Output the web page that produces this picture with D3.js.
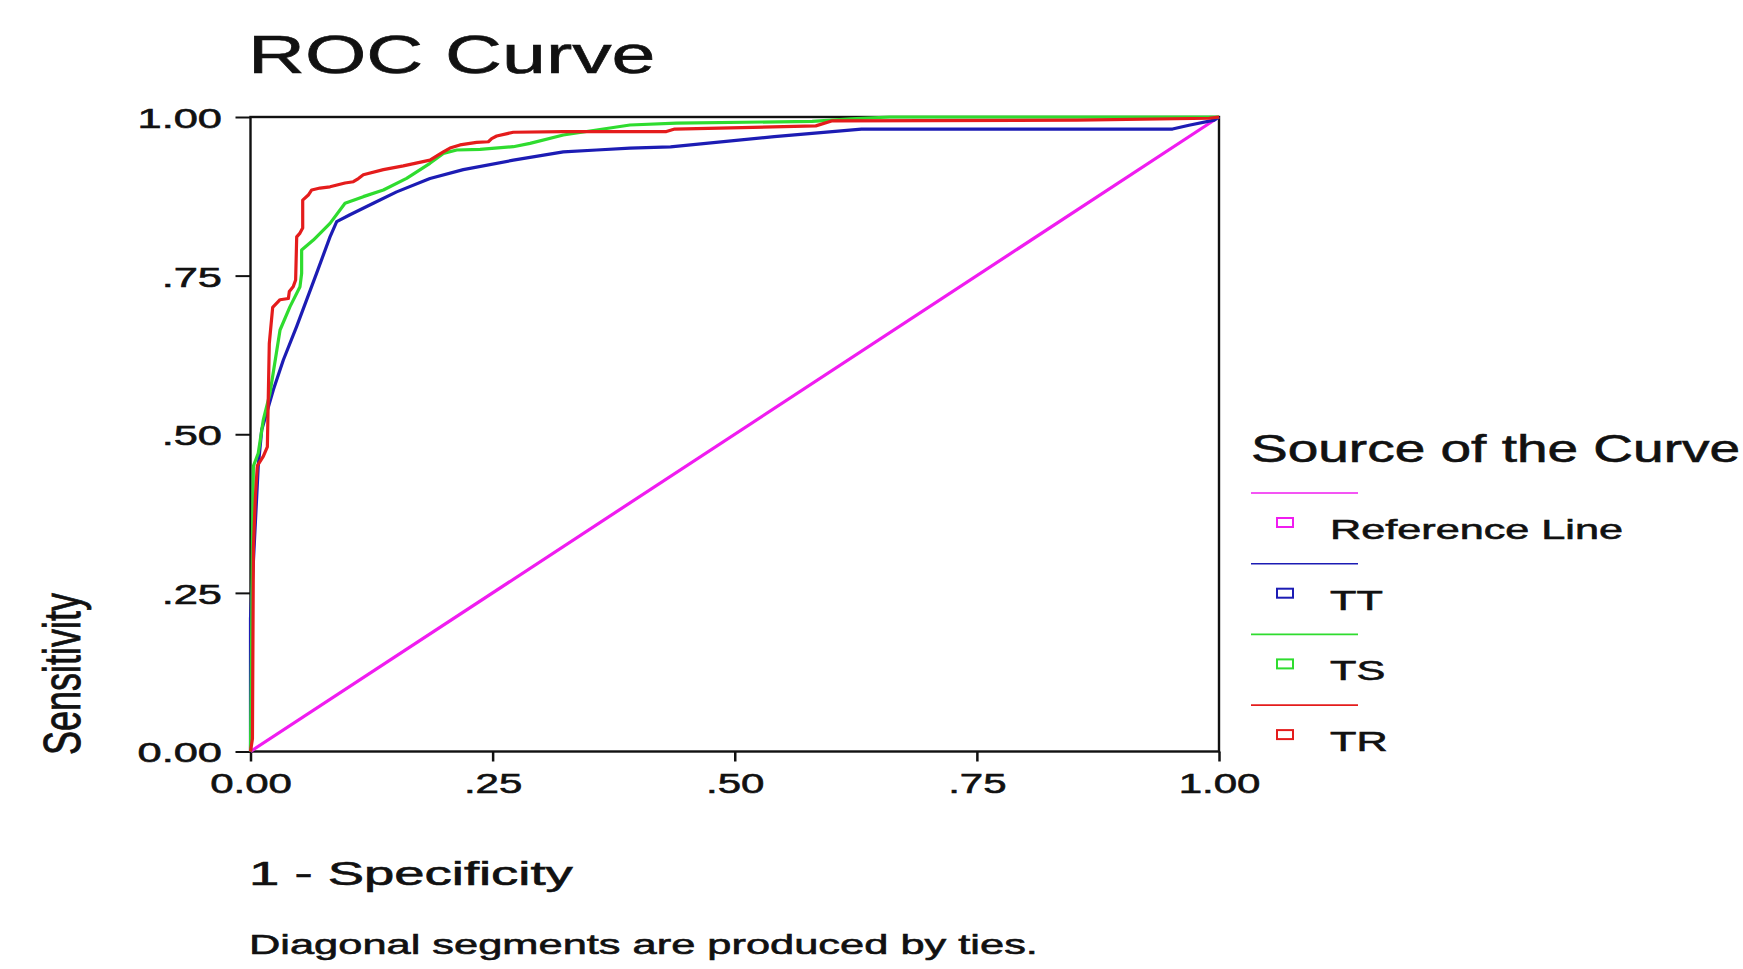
<!DOCTYPE html>
<html>
<head>
<meta charset="utf-8">
<script src="https://cdn.jsdelivr.net/npm/d3@7"></script>
<style>
  html, body { margin: 0; padding: 0; background: #fff; }
  svg { display: block; }
  text { font-family: "Liberation Sans", Arial, sans-serif; fill: #111; stroke: #111; stroke-width: 0.6px; }
</style>
</head>
<body>
<svg id="chart"></svg>
<script>
// data
const tickValues = [0, 0.25, 0.5, 0.75, 1];
const xTickLabels = ["0.00", ".25", ".50", ".75", "1.00"];
const yTickLabels = ["0.00", ".25", ".50", ".75", "1.00"];

const seriesNames = ["Reference Line", "TT", "TS", "TR"];
const seriesColors = ["#f01cf0", "#1c1cb4", "#2fdc2f", "#e41c1c"];

const refLine = [[0, 0], [1, 1]];

const ttCurve = [[0, 0], [0, 0.21], [0.004, 0.33], [0.008, 0.45], [0.0116, 0.507], [0.0236, 0.570],
  [0.0339, 0.617], [0.0477, 0.670], [0.0683, 0.754], [0.0821, 0.811], [0.089, 0.835], [0.1027, 0.846],
  [0.1268, 0.864], [0.1509, 0.882], [0.1853, 0.903], [0.2197, 0.917], [0.2714, 0.932], [0.323, 0.945],
  [0.3574, 0.948], [0.3918, 0.951], [0.4337, 0.953], [0.5408, 0.969], [0.6308, 0.981], [0.952, 0.981],
  [0.969, 0.987], [0.995, 0.995], [1, 1]];

const tsCurve = [[0, 0], [0.001, 0.15], [0.002, 0.33], [0.003, 0.45], [0.008, 0.47], [0.0132, 0.5225],
  [0.0201, 0.5645], [0.0305, 0.6643], [0.0408, 0.7011], [0.0511, 0.7326], [0.0528, 0.7536], [0.0528, 0.7904],
  [0.0649, 0.8061], [0.0821, 0.8324], [0.0976, 0.864], [0.1165, 0.8745], [0.1372, 0.885], [0.1612, 0.9033],
  [0.1853, 0.927], [0.1991, 0.9427], [0.2129, 0.948], [0.237, 0.949], [0.2714, 0.9532], [0.2886, 0.9585],
  [0.323, 0.9716], [0.3574, 0.9795], [0.3918, 0.9874], [0.44, 0.9905], [0.58, 0.993], [0.62, 0.997],
  [0.66, 1], [1, 1]];

const trCurve = [[0, 0], [0.002, 0.02], [0.003, 0.32], [0.005, 0.40], [0.007, 0.45], [0.0132, 0.465],
  [0.0174, 0.48], [0.0194, 0.643], [0.0229, 0.70], [0.0305, 0.712], [0.0391, 0.714], [0.0401, 0.725],
  [0.0442, 0.733], [0.0466, 0.743], [0.0477, 0.811], [0.0511, 0.817], [0.0539, 0.825], [0.0539, 0.869],
  [0.0597, 0.877], [0.0632, 0.885], [0.0718, 0.888], [0.0821, 0.890], [0.0976, 0.896], [0.1062, 0.898],
  [0.1114, 0.903], [0.1165, 0.909], [0.1372, 0.917], [0.1578, 0.923], [0.1853, 0.932], [0.1991, 0.945],
  [0.206, 0.951], [0.2163, 0.956], [0.2335, 0.960], [0.2456, 0.961], [0.249, 0.966], [0.2542, 0.970],
  [0.2714, 0.976], [0.323, 0.977], [0.4294, 0.977], [0.438, 0.981], [0.5837, 0.986], [0.6008, 0.994],
  [0.8534, 0.995], [0.99, 0.998], [1, 1]];

const curves = [refLine, ttCurve, tsCurve, trCurve];

// the source picture is stretched sideways, so text gets widened to match
function stretch(sel, sx) {
  sel.each(function () {
    const w = this.getComputedTextLength();
    d3.select(this).attr("textLength", w * sx).attr("lengthAdjust", "spacingAndGlyphs");
  });
}

const width = 1743, height = 969;
const plot = { left: 250.5, right: 1219, top: 117, bottom: 751.5 };

const svg = d3.select("#chart")
  .attr("width", width)
  .attr("height", height);

svg.append("rect").attr("width", width).attr("height", height).attr("fill", "#fff");

const x = d3.scaleLinear().domain([0, 1]).range([plot.left, plot.right]);
const y = d3.scaleLinear().domain([0, 1]).range([plot.bottom, plot.top]);

// title
svg.append("text")
  .attr("x", 248).attr("y", 73)
  .style("font-size", "54px")
  .text("ROC Curve")
  .call(stretch, 1.46);

// axes
const yAxis = svg.append("g")
  .attr("transform", `translate(${plot.left},0)`)
  .call(d3.axisLeft(y).tickValues(tickValues).tickFormat((d, i) => yTickLabels[i]).tickSize(15).tickPadding(13.5));
yAxis.select(".domain").remove();
yAxis.selectAll("line").attr("stroke", "#111").attr("stroke-width", 2);
yAxis.selectAll("text").attr("dy", "0.37em").style("font-size", "28px").attr("font-family", null)
  .call(stretch, 1.55);

const xAxis = svg.append("g")
  .attr("transform", `translate(0,${plot.bottom})`)
  .call(d3.axisBottom(x).tickValues(tickValues).tickFormat((d, i) => xTickLabels[i]).tickSize(10).tickPadding(11.6));
xAxis.select(".domain").remove();
xAxis.selectAll("line").attr("stroke", "#111").attr("stroke-width", 2.5);
xAxis.selectAll("text").style("font-size", "28px").attr("font-family", null)
  .call(stretch, 1.5);

// frame
svg.append("rect")
  .attr("x", plot.left).attr("y", plot.top)
  .attr("width", plot.right - plot.left).attr("height", plot.bottom - plot.top)
  .attr("fill", "none").attr("stroke", "#111").attr("stroke-width", 2.4);

// curves
const line = d3.line().x(d => x(d[0])).y(d => y(d[1]));
svg.append("g").selectAll("path")
  .data(curves)
  .enter()
  .append("path")
  .attr("d", line)
  .attr("fill", "none")
  .attr("stroke", (d, i) => seriesColors[i])
  .attr("stroke-width", 3.2)
  .attr("stroke-linejoin", "round");

// axis titles
svg.append("text")
  .attr("transform", "translate(80,755) scale(1.42,1) rotate(-90)")
  .style("font-size", "36px")
  .text("Sensitivity");

svg.append("text")
  .attr("x", 249).attr("y", 885)
  .style("font-size", "33px")
  .text("1 - Specificity")
  .call(stretch, 1.65);

svg.append("text")
  .attr("x", 249).attr("y", 954)
  .style("font-size", "28px")
  .text("Diagonal segments are produced by ties.")
  .call(stretch, 1.55);

// legend
const legend = svg.append("g");
legend.append("text")
  .attr("x", 1251).attr("y", 462)
  .style("font-size", "39px")
  .text("Source of the Curve")
  .call(stretch, 1.41);

const items = legend.selectAll("g.item")
  .data(seriesNames)
  .enter()
  .append("g")
  .attr("class", "item")
  .attr("transform", (d, i) => `translate(0,${493 + i * 70.7})`);

items.append("line")
  .attr("x1", 1251).attr("x2", 1358)
  .attr("stroke", (d, i) => seriesColors[i])
  .attr("stroke-width", 1.6);

items.append("rect")
  .attr("x", 1277).attr("y", 25)
  .attr("width", 16).attr("height", 9)
  .attr("fill", "none")
  .attr("stroke", (d, i) => seriesColors[i])
  .attr("stroke-width", 2);

items.append("text")
  .attr("x", 1330).attr("y", 46)
  .style("font-size", "27px")
  .text(d => d)
  .call(stretch, 1.6);
</script>
</body>
</html>
